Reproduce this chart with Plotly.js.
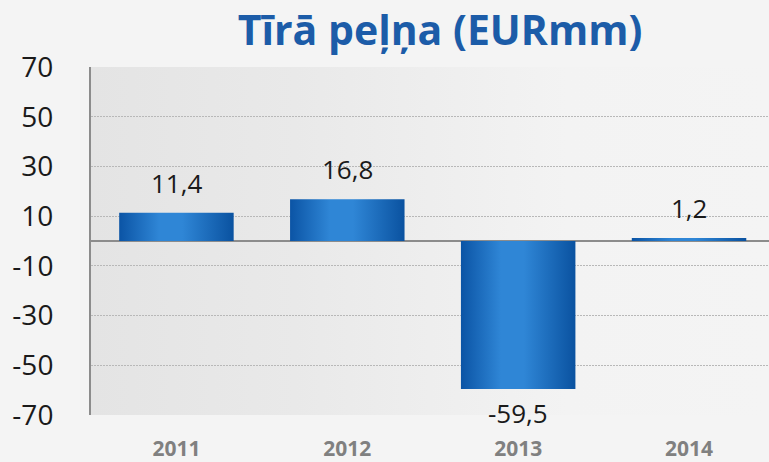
<!DOCTYPE html>
<html>
<head>
<meta charset="utf-8">
<script src="https://cdn.plot.ly/plotly-3.0.1.min.js"></script>
<style>html,body{margin:0;padding:0;background:#f4f4f4;}#chart{width:769px;height:462px;}</style>
</head>
<body>
<div id="chart"></div>
<script>
const categories = ['2011', '2012', '2013', '2014'];
const values = [11.4, 16.8, -59.5, 1.2];
const yTicks = [-70, -50, -30, -10, 10, 30, 50, 70];
const titleText = 'Tīrā peļņa (EURmm)';

const fmt = v => v.toFixed(1).replace('.', ',');

const trace = {
  type: 'bar',
  x: categories,
  y: values,
  marker: { color: '#2a7acb', line: { width: 0 } },
  hoverinfo: 'none'
};

const annotations = categories.map((c, i) => ({
  x: i, y: values[i], xref: 'x', yref: 'y',
  text: fmt(values[i]),
  showarrow: false,
  yanchor: values[i] >= 0 ? 'bottom' : 'top',
  yshift: values[i] >= 0 ? 10 : -4,
  font: { family: 'Open Sans, sans-serif', size: 26, color: '#1a1a1a' }
}));

const layout = {
  width: 769, height: 462,
  paper_bgcolor: '#f4f4f4',
  plot_bgcolor: '#ececec',
  margin: { l: 91, r: 0, t: 67, b: 47 },
  bargap: 0.33,
  showlegend: false,
  title: {
    text: '<b>' + titleText + '</b>',
    font: { family: 'Open Sans, sans-serif', size: 41, color: '#1c5ca8' },
    xref: 'container', x: 440 / 769, xanchor: 'center',
    yref: 'container', y: 1 - 31 / 462, yanchor: 'middle'
  },
  xaxis: {
    type: 'category',
    range: [-0.5, 3.468],
    showgrid: false, zeroline: false, showline: false,
    ticks: 'outside', ticklen: 15, tickcolor: 'rgba(0,0,0,0)',
    tickfont: { family: 'Open Sans, sans-serif', size: 21, color: '#808080', weight: 'bold' }
  },
  yaxis: {
    range: [-70, 70],
    tickvals: yTicks,
    ticktext: yTicks.map(String),
    showgrid: true, gridcolor: '#b8b8b8', gridwidth: 1, griddash: '2px,1px',
    zeroline: true, zerolinecolor: '#8c8c8c', zerolinewidth: 2,
    showline: true, linecolor: '#8c8c8c', linewidth: 2,
    ticks: 'outside', ticklen: 30, tickcolor: 'rgba(0,0,0,0)',
    tickfont: { family: 'Open Sans, sans-serif', size: 28, color: '#1a1a1a' }
  },
  annotations: annotations
};

Plotly.newPlot('chart', [trace], layout, { displayModeBar: false, staticPlot: true }).then(gd => {
  const svg = gd.querySelector('svg.main-svg');
  const ns = 'http://www.w3.org/2000/svg';
  const defs = document.createElementNS(ns, 'defs');
  defs.innerHTML =
    '<linearGradient id="barGrad" x1="0" y1="0" x2="1" y2="0">' +
    '<stop offset="0" stop-color="#0b54a5"/>' +
    '<stop offset="0.35" stop-color="#2f86d6"/>' +
    '<stop offset="0.55" stop-color="#2f86d6"/>' +
    '<stop offset="1" stop-color="#0a52a0"/>' +
    '</linearGradient>' +
    '<linearGradient id="bgGrad" x1="0" y1="0" x2="1" y2="0">' +
    '<stop offset="0" stop-color="#e4e4e4"/>' +
    '<stop offset="0.3" stop-color="#e9e9e9"/>' +
    '<stop offset="0.7" stop-color="#f3f3f3"/>' +
    '<stop offset="1" stop-color="#f4f4f4"/>' +
    '</linearGradient>';
  svg.insertBefore(defs, svg.firstChild);
  gd.querySelectorAll('.trace.bars .point path').forEach(p => { p.style.fill = 'url(#barGrad)'; });
  gd.querySelectorAll('.bglayer rect.bg').forEach(r => { r.style.fill = 'url(#bgGrad)'; });
});
</script>
</body>
</html>
